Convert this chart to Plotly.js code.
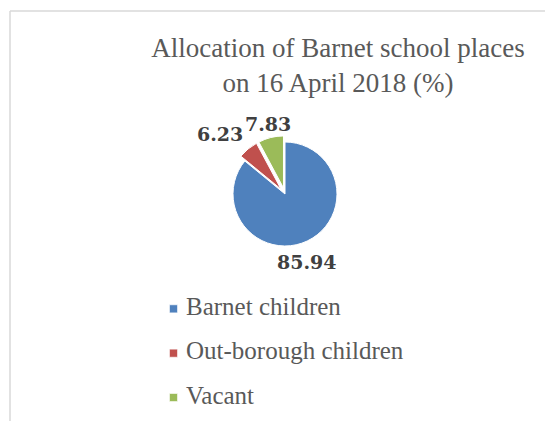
<!DOCTYPE html>
<html>
<head>
<meta charset="utf-8">
<script src="https://cdn.plot.ly/plotly-3.0.1.min.js"></script>
<style>
  html, body { margin: 0; padding: 0; background: #ffffff; }
  #chart { width: 545px; height: 421px; }
  /* smaller legend squares, closer to the text, as in the original */
  #chart .legend path.legendpie { transform: translate(27.5px, 0px) scale(0.68); }
</style>
</head>
<body>
<div id="chart"></div>
<script>
// ---- data ----
const categories = ["Barnet children", "Out-borough children", "Vacant"];
const shares = [85.94, 6.23, 7.83];
const pulls = [0, 0.12, 0.12];
const sliceColors = ["#4F81BD", "#C0504D", "#9BBB59"];
const chartTitle = "Allocation of Barnet school places<br>on 16 April 2018 (%)";

// data-label placement (pixels, layout only)
const labelPx = [[307, 262], [220, 134], [268, 124]];

// legend entries: larger text, extra blank line for Excel-like spacing
const legendLabels = categories.map(c => '<span style="font-size:25px">' + c + '</span><br>\u00a0');

const W = 545, H = 421;
const cx = 285, cy = 194, r = 52, maxPull = 0.12;
const half = r * (1 + maxPull);

const trace = {
  type: 'pie',
  labels: legendLabels,
  values: shares,
  pull: pulls,
  sort: false,
  direction: 'clockwise',
  rotation: 0,
  marker: { colors: sliceColors, line: { color: '#ffffff', width: 1 } },
  textinfo: 'none',
  hoverinfo: 'none',
  domain: {
    x: [(cx - half) / W, (cx + half) / W],
    y: [(H - cy - half) / H, (H - cy + half) / H]
  }
};

const annotations = shares.map((v, i) => ({
  text: String(v),
  xref: 'paper', yref: 'paper',
  x: labelPx[i][0] / W, y: 1 - labelPx[i][1] / H,
  xanchor: 'center', yanchor: 'middle',
  showarrow: false,
  font: { family: 'DejaVu Serif', size: 19, color: '#404040', weight: 'bold' }
}));

const layout = {
  width: W, height: H,
  margin: { l: 0, r: 0, t: 0, b: 0, autoexpand: false },
  paper_bgcolor: '#ffffff',
  plot_bgcolor: '#ffffff',
  title: {
    text: chartTitle,
    font: { family: 'Liberation Serif', size: 27, color: '#595959' },
    x: 338 / W, xref: 'paper', xanchor: 'center',
    y: 1 - 57 / H, yref: 'container', yanchor: 'top'
  },
  showlegend: true,
  legend: {
    x: 146 / W, xanchor: 'left',
    y: 1 - 292 / H, yanchor: 'top',
    valign: 'top',
    bgcolor: 'rgba(0,0,0,0)',
    font: { family: 'Liberation Serif', size: 15.9, color: '#595959' }
  },
  annotations: annotations,
  shapes: [
    { type: 'line', xref: 'paper', yref: 'paper', x0: 10 / W, x1: 10 / W, y0: 0, y1: 1 - 11 / H,
      line: { color: '#d9d9d9', width: 1.5 } },
    { type: 'line', xref: 'paper', yref: 'paper', x0: 10 / W, x1: 1, y0: 1 - 11 / H, y1: 1 - 11 / H,
      line: { color: '#d9d9d9', width: 1.5 } }
  ]
};

Plotly.newPlot('chart', [trace], layout, { displayModeBar: false, staticPlot: true });
</script>
</body>
</html>
